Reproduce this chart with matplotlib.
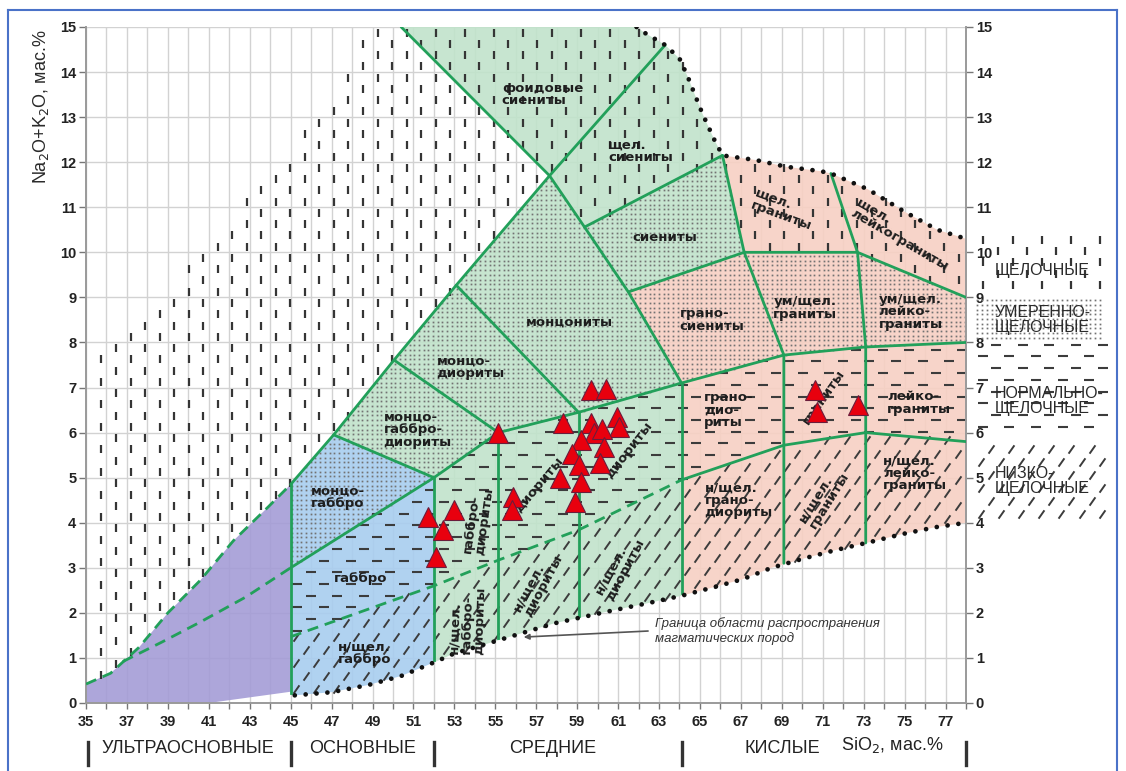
import numpy as np
import matplotlib.pyplot as plt
from matplotlib.path import Path

plt.rcParams['font.family'] = ['Liberation Sans', 'DejaVu Sans']

# analysed samples: SiO2 and Na2O+K2O, wt.%
sio2 = [59.7, 60.4, 58.33, 55.15, 60.93, 61.03, 59.7, 59.8, 59.2, 60.2, 60.3, 58.73, 59.07,
        60.1, 58.14, 59.2, 58.87, 55.88, 55.8, 53.0, 51.7, 52.45, 52.1, 70.64, 70.74, 72.7]
alk = [6.94, 6.97, 6.21, 5.99, 6.35, 6.12, 6.21, 5.99, 5.84, 6.08, 5.68, 5.52, 5.28,
       5.32, 4.99, 4.9, 4.46, 4.57, 4.28, 4.28, 4.13, 3.84, 3.24, 6.94, 6.46, 6.61]

# classification boundaries (SiO2, Na2O+K2O)
purple_top = [(35, 0.42), (36.2, 0.66), (37.6, 1.24), (39.0, 2.0), (40.6, 2.73),
              (42.2, 3.6), (43.9, 4.35), (45, 4.85)]
purple_mid = [(36.8, 0.92), (38.7, 1.35), (40.6, 1.8), (42.8, 2.35), (45, 3.0)]
purple_base = [(35, 0), (41, 0), (45, 0.25)]
main_diag = [(45, 4.85), (47.1, 5.95), (50.05, 7.61), (53.09, 9.27), (57.65, 11.7), (63.3, 14.6)]
line_b = [(50.4, 15), (57.65, 11.7), (59.36, 10.56), (61.5, 9.12), (64.1, 7.1)]
top_dots = [(61.9, 15.0), (62.3, 14.87), (63.3, 14.6), (64.0, 14.3), (64.4, 13.9), (64.6, 13.67),
            (65.1, 13.1), (65.7, 12.5), (66.1, 12.15), (67.7, 12.05), (69.2, 11.9), (70.9, 11.8),
            (71.4, 11.75), (73.2, 11.4), (75.0, 10.9), (76.6, 10.5), (78.0, 10.3)]
bottom_dots = [(45.2, 0.17), (47.0, 0.24), (48.8, 0.4), (50.4, 0.6), (52, 0.9), (53, 1.1),
               (54.7, 1.33), (56.3, 1.55), (57.9, 1.77), (59.2, 1.9), (60.8, 2.06), (62.5, 2.22),
               (64.1, 2.38), (65.6, 2.56), (67.1, 2.75), (68.5, 3.0), (70.1, 3.21), (71.6, 3.39),
               (73.3, 3.57), (74.9, 3.75), (76.5, 3.9), (78, 4.0)]
syenite_top = [(59.36, 10.56), (66.1, 12.15)]
alk_lower = [(61.5, 9.12), (67.16, 10.0), (72.7, 10.0), (78, 9.0)]
normal_top = [(45, 3.0), (52, 5.0), (55.15, 6.0), (59.07, 6.45), (64.1, 7.1), (69.1, 7.72),
              (73.1, 7.9), (78, 8.0)]
low_top = [(45, 1.47), (52, 2.6), (55.15, 3.17), (59.07, 3.84), (64.1, 4.95), (69.1, 5.72),
           (73.1, 6.0), (78, 5.8)]
line_69 = [(66.1, 12.15), (67.16, 10.0), (69.1, 7.72), (69.1, 3.1)]
line_73 = [(71.4, 11.75), (72.7, 10.0), (73.1, 7.9), (73.1, 3.55)]
gabbro_top = [(47.1, 5.95), (52, 5.0)]
mgd_md = [(50.05, 7.61), (55.15, 6.0)]
md_mz = [(53.09, 9.27), (59.07, 6.45)]
si_cuts = [45, 52, 55.15, 59.07, 64.1]
cut_tops = [4.85, 5.0, 6.0, 6.45, 7.1]
alk_edge = [(35.4, 0.5), (35.4, 7.9), (37.2, 8.2), (39, 9.2), (41.2, 10.3), (42.5, 10.9),
            (44.2, 12.0), (45.5, 12.6), (46.1, 13.2), (47.8, 13.9), (48.4, 14.65), (49.0, 15.0)]

region_names = [
    ('фоидовые\nсиениты', 57.3, 13.5, 0), ('щел.\nсиениты', 62.1, 12.25, 0),
    ('сиениты', 63.3, 10.32, 0), ('щел.\nграниты', 69.1, 10.95, -20),
    ('щел.\nлейкограниты', 74.9, 10.4, -30), ('грано-\nсиениты', 65.6, 8.5, 0),
    ('ум/щел.\nграниты', 70.15, 8.76, 0), ('ум/щел.\nлейко-\nграниты', 75.3, 8.68, 0),
    ('монцониты', 58.6, 8.45, 0), ('монцо-\nдиориты', 53.8, 7.45, 0),
    ('монцо-\nгаббро-\nдиориты', 51.2, 6.06, 0), ('монцо-\nгаббро', 47.3, 4.57, 0),
    ('габбро', 48.4, 2.77, 0), ('н/щел.\nгаббро', 48.6, 1.1, 0),
    ('габбро-\nдиориты', 54.15, 4.06, 82), ('н/щел.\nгаббро-\nдиориты', 53.65, 1.84, 88),
    ('диориты', 57.15, 4.84, 50), ('диориты', 61.55, 5.61, 52),
    ('н/щел.\nдиориты', 57.1, 2.66, 62), ('н/щел.\nдиориты', 61.1, 3.02, 62),
    ('грано-\nдио-\nриты', 66.4, 6.5, 0), ('граниты', 71.05, 6.8, 55),
    ('лейко-\nграниты', 75.7, 6.66, 0), ('н/щел.\nграно-\nдиориты', 66.9, 4.5, 0),
    ('н/щел.\nграниты', 71.05, 4.57, 58), ('н/щел.\nлейко-\nграниты', 75.5, 5.1, 0),
]
groups = ['УЛЬТРАОСНОВНЫЕ', 'ОСНОВНЫЕ', 'СРЕДНИЕ', 'КИСЛЫЕ']
group_pos = [40.0, 48.5, 57.8, 69.0]
group_bars = [35.1, 45, 52, 64.1, 78]
alk_series = ['ЩЕЛОЧНЫЕ', 'УМЕРЕННО-\nЩЕЛОЧНЫЕ', 'НОРМАЛЬНО-\nЩЕЛОЧНЫЕ', 'НИЗКО-\nЩЕЛОЧНЫЕ']
alk_series_y = [9.6, 8.5, 6.7, 4.93]
alk_series_box = [(9.15, 10.3), (8.05, 8.98), (6.0, 7.95), (4.05, 5.85)]


def rev(seq):
    return list(seq)[::-1]


purple = purple_base + [(45, 4.85)] + rev(purple_top[:-1])
blue = [(45, 0.25), (45, 4.85), (47.1, 5.95), (52, 5.0), (52, 0.9)] + rev(bottom_dots[:4])
green = (main_diag[1:5] + line_b[:1] + top_dots[:9] + [(67.16, 10.0), (61.5, 9.12), (64.1, 7.1)]
         + rev(bottom_dots[5:13]) + [(52, 0.9), (52, 5.0)])
pink = ([(61.5, 9.12), (67.16, 10.0)] + top_dots[8:] + rev(bottom_dots[12:]) + [(64.1, 7.1)])

zone_alk = (alk_edge + top_dots + rev(alk_lower[1:]) + [(66.1, 12.15)] + [(59.36, 10.56)]
            + rev(main_diag[:5]) + rev(purple_top[1:-1]))
zone_mod = ([(45, 3.0)] + main_diag[:5] + [(59.36, 10.56), (66.1, 12.15)] + alk_lower[1:]
            + rev(normal_top[1:]))
zone_norm = [(45, 1.47)] + normal_top + rev(low_top[1:])
zone_low = [(45, 0.25)] + low_top + rev(bottom_dots)

DIAG = Path([(-0.7, -1.0), (0.7, 1.0)], [Path.MOVETO, Path.LINETO])
STYLES = {
    'vdash': dict(dx=1.42, dy=0.25, stagger=True, marker='|', ms=6, mew=1.6, color='#353535'),
    'dots': dict(dx=0.23, dy=0.104, stagger=False, marker='s', ms=1.25, mew=0, color='#727272'),
    'hdash': dict(dx=1.3, dy=0.26, stagger=True, marker='_', ms=7, mew=1.5, color='#3c3c3c'),
    'diag': dict(dx=0.98, dy=0.29, stagger=True, marker=DIAG, ms=6, mew=1.4, color='#3c3c3c'),
}


def texture(ax, poly, kind, clip=True):
    st = STYLES[kind]
    verts = np.asarray(poly, float)
    (x0, y0), (x1, y1) = verts.min(axis=0), verts.max(axis=0)
    xs, ys = [], []
    for j, yy in enumerate(np.arange(y0 + st['dy'] / 2, y1, st['dy'])):
        off = st['dx'] / 2 if (st['stagger'] and j % 2) else 0
        for xx in np.arange(x0 + st['dx'] / 4 + off, x1, st['dx']):
            xs.append(xx)
            ys.append(yy)
    pts = np.column_stack([xs, ys])
    inside = Path(verts).contains_points(pts)
    ax.plot(pts[inside, 0], pts[inside, 1], ls='none', marker=st['marker'], ms=st['ms'],
            mew=st['mew'], mec=st['color'], mfc=st['color'], zorder=2, clip_on=clip)


fig = plt.figure(figsize=(11.26, 7.71), dpi=100)
ax = fig.add_axes([0.0764, 0.0882, 0.7815, 0.8768])
ax.set_xlim(35, 78)
ax.set_ylim(0, 15)

# grid
for gx in range(35, 79):
    ax.axvline(gx, color='#d2d2d2', lw=1.0, zorder=0)
for gy in range(0, 16):
    ax.axhline(gy, color='#d2d2d2', lw=1.0, zorder=0)

# coloured fields
for poly, col in [(purple, '#a49cd6'), (blue, '#a8cdef'), (green, '#c1e3cb'), (pink, '#f7d0c3')]:
    ax.fill(*zip(*poly), color=col, lw=0, alpha=0.9, zorder=1)

# alkalinity textures
texture(ax, zone_alk, 'vdash')
texture(ax, zone_mod, 'dots')
texture(ax, zone_norm, 'hdash')
texture(ax, zone_low, 'diag')

# field boundaries
GREEN = '#22a05a'
solid = [main_diag, line_b, syenite_top, alk_lower, normal_top, low_top[4:], line_69, line_73,
         gabbro_top, mgd_md, md_mz]
for seg in solid:
    ax.plot(*zip(*seg), color=GREEN, lw=2.0, zorder=3, solid_capstyle='round')
bot_x, bot_y = zip(*bottom_dots)
for sx, top in zip(si_cuts, cut_tops):
    ax.plot([sx, sx], [np.interp(sx, bot_x, bot_y) + 0.05, top], color=GREEN, lw=2.0, zorder=3)
for seg in [low_top[:5], purple_mid, purple_top]:
    ax.plot(*zip(*seg), color=GREEN, lw=2.0, ls=(0, (4, 2.5)), zorder=3)
for seg in [top_dots, bottom_dots]:
    ax.plot(*zip(*seg), color='#111111', lw=3.4, ls=(0, (0.01, 2.3)),
            dash_capstyle='round', zorder=3)

# field names
for name, x, y, rot in region_names:
    ax.text(x, y, name, ha='center', va='center', rotation=rot, rotation_mode='anchor',
            multialignment='left', fontsize=9.5, fontweight='bold', family='DejaVu Sans',
            color='#1e1e1e', linespacing=0.95, zorder=4)

ax.annotate('', xy=(56.25, 1.46), xytext=(62.6, 1.6),
            arrowprops=dict(arrowstyle='-|>', color='#555555', lw=1.2, mutation_scale=8), zorder=4)
ax.text(62.8, 1.6, 'Граница области распространения\nмагматических пород', ha='left',
        va='center', fontsize=9.5, style='italic', color='#333333', linespacing=1.15, zorder=4)

# samples
ax.plot(sio2, alk, ls='none', marker='^', ms=15, mfc='#e8000e', mec='#6a1d3c', mew=0.8, zorder=5)

# alkalinity series key on the right
for kind, (lo, hi), label, ly in zip(['vdash', 'dots', 'hdash', 'diag'], alk_series_box,
                                     alk_series, alk_series_y):
    texture(ax, [(78.5, lo), (84.7, lo), (84.7, hi), (78.5, hi)], kind, clip=False)
    ax.text(79.4, ly, label, ha='left', va='center', fontsize=11.5, color='#2a2a2a',
            linespacing=1.05, clip_on=False, zorder=4)

# axes decoration
ax.set_xticks(range(35, 79))
ax.set_xticklabels([str(v) if v % 2 else '' for v in range(35, 79)])
ax.set_yticks(range(16))
ax.tick_params(axis='x', length=4, width=1, color='#777777', pad=5, labelsize=10.5,
               labelcolor='#222222')
ax.tick_params(axis='y', length=5, width=1, color='#777777', pad=2, labelsize=10.5,
               labelcolor='#222222', left=True, right=True, labelleft=True, labelright=True)
for t in ax.xaxis.get_major_ticks() + ax.yaxis.get_major_ticks():
    t.label1.set_fontweight('bold')
    t.label2.set_fontweight('bold')
for side in ['left', 'right', 'bottom']:
    ax.spines[side].set_color('#9a9a9a')
    ax.spines[side].set_linewidth(1.4)
ax.spines['top'].set_visible(False)

fig.text(0.036, 0.862, 'Na$_2$O+K$_2$O, мас.%', rotation=90, ha='center', va='center',
         fontsize=13, color='#2a2a2a')

# SiO2 groups under the axis
xax = ax.get_xaxis_transform()
for bx in group_bars:
    ax.plot([bx, bx], [-0.058, -0.092], color='#333333', lw=2.4, transform=xax, clip_on=False)
for name, gx in zip(groups, group_pos):
    ax.text(gx, -0.068, name, ha='center', va='center', fontsize=13, color='#222222',
            transform=xax)
ax.text(74.4, -0.062, 'SiO$_2$, мас.%', ha='center', va='center', fontsize=13,
        color='#222222', transform=xax)

# frame around the figure
for xs_, ys_ in [([0.007, 0.007], [0.0, 0.987]), ([0.007, 0.992], [0.987, 0.987]),
                 ([0.992, 0.992], [0.987, 0.0])]:
    fig.add_artist(plt.Line2D(xs_, ys_, color='#4a72c8', lw=1.5))

fig.savefig('out.png', dpi=100, facecolor='white')
